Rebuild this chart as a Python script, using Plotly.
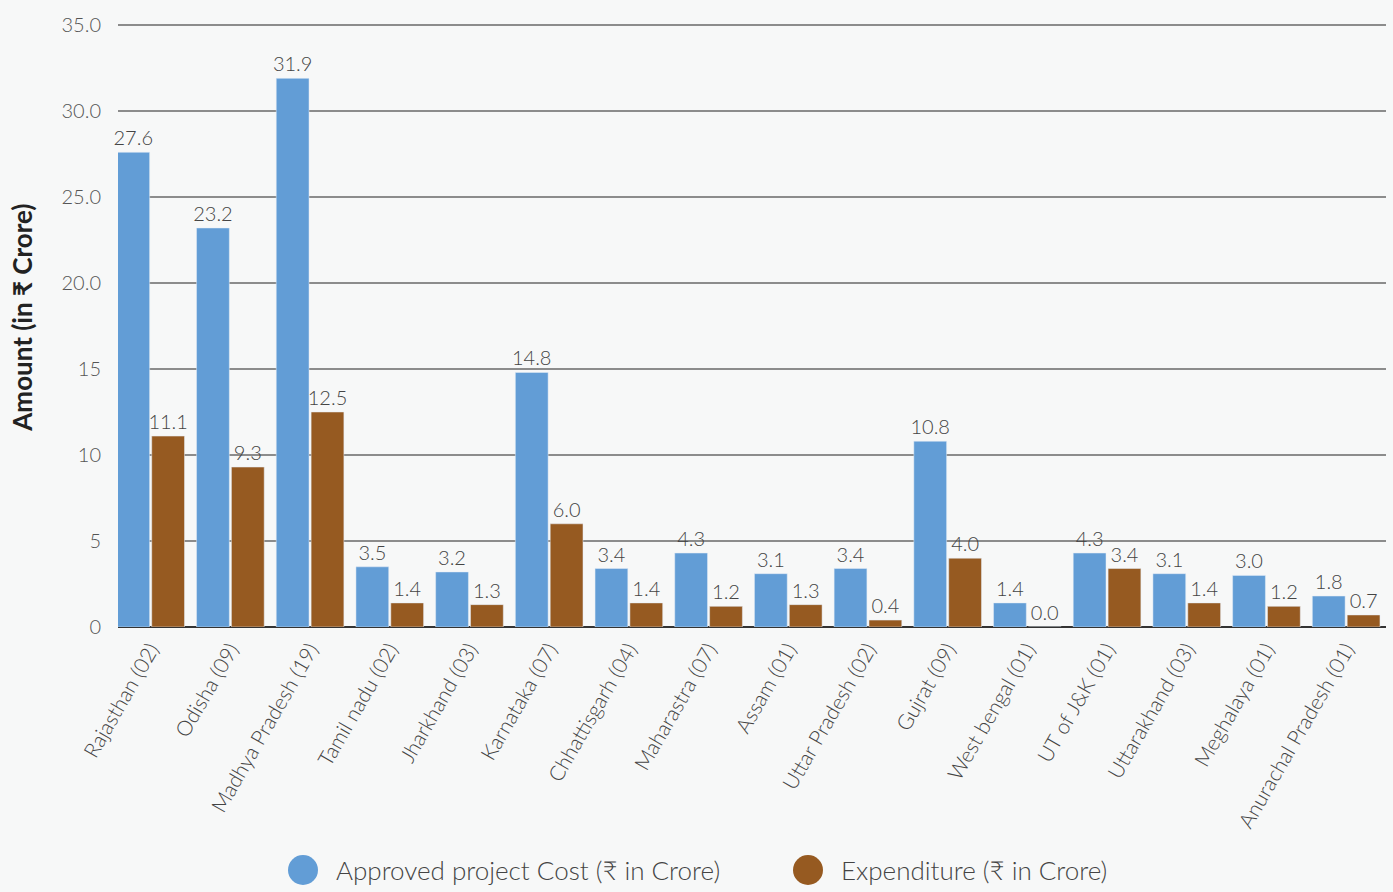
import plotly.graph_objects as go

states = ["Rajasthan (02)", "Odisha (09)", "Madhya Pradesh (19)", "Tamil nadu (02)",
          "Jharkhand (03)", "Karnataka (07)", "Chhattisgarh (04)", "Maharastra (07)",
          "Assam (01)", "Uttar Pradesh (02)", "Gujrat (09)", "West bengal (01)",
          "UT of J&K (01)", "Uttarakhand (03)", "Meghalaya (01)", "Anurachal Pradesh (01)"]
approved = [27.6, 23.2, 31.9, 3.5, 3.2, 14.8, 3.4, 4.3, 3.1, 3.4, 10.8, 1.4, 4.3, 3.1, 3.0, 1.8]
expenditure = [11.1, 9.3, 12.5, 1.4, 1.3, 6.0, 1.4, 1.2, 1.3, 0.4, 4.0, 0.0, 3.4, 1.4, 1.2, 0.7]
y_tickvals = [0, 5, 10, 15, 20, 25, 30, 35]
y_ticktext = ["0", "5", "10", "15", "20.0", "25.0", "30.0", "35.0"]
series_names = ["Approved project Cost (₹ in Crore)", "Expenditure (₹ in Crore)"]

BLUE = "#629dd6"
BROWN = "#965a21"
FONT = "Lato"
TXT = "#444444"

W, H = 1393, 892
ML, MR, MT, MB = 118, 7, 24, 265

fig = go.Figure()
for name, vals, col in [(series_names[0], approved, BLUE), (series_names[1], expenditure, BROWN)]:
    fig.add_trace(go.Bar(
        x=states, y=vals, name=name, marker_color=col,
        text=[f"{v:.1f}" for v in vals], textposition="outside",
        textfont=dict(family=FONT, size=20, color=TXT, weight=300),
        constraintext="none", cliponaxis=False, showlegend=False,
    ))

fig.update_layout(
    width=W, height=H,
    margin=dict(l=ML, r=MR, t=MT, b=MB),
    paper_bgcolor="#f7f8f8", plot_bgcolor="#f7f8f8",
    barmode="group", bargap=0.125, bargroupgap=0.06,
    font=dict(family=FONT, color=TXT),
    xaxis=dict(
        range=[-0.41, 15.5], tickangle=-60,
        tickfont=dict(family=FONT, size=21, color=TXT, weight=300),
        showgrid=False, showline=False, ticks="", ticklabelstandoff=5,
    ),
    yaxis=dict(
        range=[0, 35.06], tickvals=y_tickvals, ticktext=y_ticktext,
        tickfont=dict(family=FONT, size=20, color="#555555", weight=300),
        showgrid=True, gridcolor="#8c8c8c", gridwidth=1.5,
        zeroline=True, zerolinecolor="#333333", zerolinewidth=1.5,
        ticklabelstandoff=16, showline=False,
    ),
)

# y-axis title
fig.add_annotation(
    text="Amount (in ₹ Crore)", textangle=-90,
    xref="paper", yref="paper",
    x=(22 - ML) / (W - ML - MR), y=0.513, xanchor="center", yanchor="middle",
    showarrow=False, font=dict(family=FONT, size=26, color="#222222", weight=700),
)

# legend (manual, large circular markers)
plot_h = H - MT - MB
ly = -(870 - (H - MB)) / plot_h
pw = W - ML - MR
for cx, tx, col, name in [(303, 334, BLUE, series_names[0]), (808, 839, BROWN, series_names[1])]:
    fig.add_shape(type="circle", xref="paper", yref="paper",
                  xsizemode="pixel", ysizemode="pixel",
                  xanchor=(cx - ML) / pw, yanchor=ly,
                  x0=-15, x1=15, y0=-15, y1=15,
                  fillcolor=col, line=dict(width=0))
    fig.add_annotation(text=name, xref="paper", yref="paper",
                       x=(tx - ML) / pw, y=ly, xanchor="left", yanchor="middle",
                       showarrow=False,
                       font=dict(family=FONT, size=26, color=TXT, weight=300))

fig.write_html("out.html", config={"displayModeBar": False},
               post_script="document.body.style.margin='0';")
